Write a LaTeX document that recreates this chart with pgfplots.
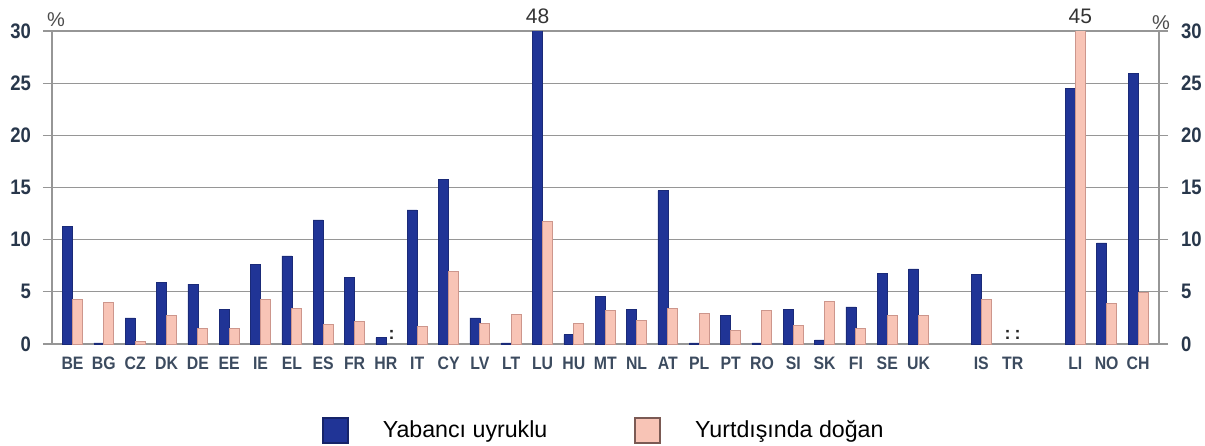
\documentclass[border=0pt]{standalone}
\usepackage{pgfplots}
\pgfplotsset{compat=1.18}
\usepackage{fontspec}
\setmainfont{Liberation Sans}
\newfontfamily\narrow[FakeStretch=0.88]{Liberation Sans}
\definecolor{barblue}{RGB}{32,52,150}
\definecolor{barpink}{RGB}{248,196,182}
\definecolor{pinkedge}{RGB}{205,150,140}
\definecolor{tickc}{RGB}{40,55,75}
\definecolor{catc}{RGB}{60,75,95}
\definecolor{gridc}{RGB}{150,150,150}
\begin{document}
\begin{tikzpicture}
\begin{axis}[
  scale only axis, width=553.5pt, height=156.5pt,
  xmin=-0.655, xmax=34.67, ymin=0, ymax=30,
  ybar=0pt, bar width=5pt,
  clip mode=individual,
  xtick={0,1,2,3,4,5,6,7,8,9,10,11,12,13,14,15,16,17,18,19,20,21,22,23,24,25,26,27,29,30,32,33,34},
  xticklabels={BE,BG,CZ,DK,DE,EE,IE,EL,ES,FR,HR,IT,CY,LV,LT,LU,HU,MT,NL,AT,PL,PT,RO,SI,SK,FI,SE,UK,IS,TR,LI,NO,CH},
  xtick style={draw=none},
  xticklabel style={font=\narrow\bfseries\fontsize{9}{10}\selectfont, color=catc, yshift=1.5pt},
  ytick={0,5,...,30},
  ytick pos=left, tick align=outside,
  major tick length=4.5pt,
  ytick style={draw=gridc, line width=0.6pt},
  yticklabel style={font=\narrow\bfseries\fontsize{10.5}{12}\selectfont, color=tickc, xshift=-2.5pt},
  /pgf/number format/assume math mode=true,
  ymajorgrids, major grid style={draw=gridc, line width=0.6pt},
  axis line style={draw=gridc, line width=0.8pt},
  legend columns=2,
  legend style={draw=none, fill=none, at={(axis description cs:0.2439,-0.277)}, anchor=west,
    inner sep=0pt, outer sep=0pt, font=\fontsize{11.6}{14}\selectfont,
    /tikz/every even column/.append style={column sep=41.5pt}},
]
\addplot[fill=barblue, draw=barblue!80!black, line width=0.3pt,
  legend image code/.code={\draw[fill=barblue, draw=barblue!70!black, line width=0.8pt] (0pt,-6.25pt) rectangle (12.5pt,6.25pt); \path[draw=none,fill=none] (0pt,0pt) -- (28pt,0pt);}]
coordinates {
(0,11.3) (1,0.1) (2,2.5) (3,5.9) (4,5.75) (5,3.35) (6,7.65) (7,8.45) (8,11.9) (9,6.4)
(10,0.6) (11,12.85) (12,15.8) (13,2.5) (14,0.1) (15,48) (16,0.9) (17,4.6) (18,3.35) (19,14.7)
(20,0.1) (21,2.75) (22,0.1) (23,3.3) (24,0.4) (25,3.55) (26,6.75) (27,7.2)
(29,6.7) (32,24.5) (33,9.7) (34,25.95)
};
\addlegendentry{Yabancı uyruklu}
\addplot[fill=barpink, draw=pinkedge, line width=0.5pt,
  legend image code/.code={\draw[fill=barpink, draw=pinkedge!60!black, line width=0.8pt] (0pt,-6.25pt) rectangle (12.5pt,6.25pt); \path[draw=none,fill=none] (0pt,0pt) -- (28pt,0pt);}]
coordinates {
(0,4.3) (1,4.0) (2,0.25) (3,2.7) (4,1.5) (5,1.5) (6,4.25) (7,3.45) (8,1.85) (9,2.2)
(11,1.7) (12,6.95) (13,2.0) (14,2.8) (15,11.75) (16,2.0) (17,3.2) (18,2.25) (19,3.45)
(20,2.95) (21,1.3) (22,3.2) (23,1.8) (24,4.1) (25,1.5) (26,2.75) (27,2.75)
(29,4.25) (32,45) (33,3.9) (34,4.9)
};
\addlegendentry{Yurtdışında doğan}
\node[font=\fontsize{10.5}{12}\selectfont, text=black!80, anchor=center] at (axis cs:15,30) [xshift=-2.5pt, yshift=7.25pt] {48};
\node[font=\fontsize{10.5}{12}\selectfont, text=black!80, anchor=center] at (axis cs:32,30) [xshift=2.5pt, yshift=7.25pt] {45};
\node[font=\bfseries\fontsize{9}{10}\selectfont, text=black!85, anchor=south, inner sep=0pt] at (axis cs:10,0) [xshift=2.8pt, yshift=2pt] {:};
\node[font=\bfseries\fontsize{9}{10}\selectfont, text=black!85, anchor=south, inner sep=0pt] at (axis cs:30,0) [xshift=-2.5pt, yshift=2pt] {:};
\node[font=\bfseries\fontsize{9}{10}\selectfont, text=black!85, anchor=south, inner sep=0pt] at (axis cs:30,0) [xshift=2.5pt, yshift=2pt] {:};
\node[font=\fontsize{10}{12}\selectfont, text=black!70, anchor=center] at (axis description cs:0,1) [xshift=2pt, yshift=5.5pt] {\%};
\node[font=\fontsize{10}{12}\selectfont, text=black!70, anchor=center] at (axis description cs:1,1) [xshift=1pt, yshift=4pt] {\%};
\end{axis}
\begin{axis}[
  scale only axis, width=553.5pt, height=156.5pt,
  xmin=-0.655, xmax=34.67, ymin=0, ymax=30,
  axis x line=none, axis y line*=right,
  ytick={0,5,...,30}, tick align=outside, major tick length=4.5pt,
  ytick style={draw=gridc, line width=0.6pt},
  yticklabel style={font=\narrow\bfseries\fontsize{10.5}{12}\selectfont, color=tickc, xshift=3pt},
  /pgf/number format/assume math mode=true,
  axis line style={draw=gridc, line width=0.8pt},
]
\end{axis}
\pgfresetboundingbox
\path[use as bounding box] (-26pt,-50.85pt) rectangle (576.5pt,172pt);
\end{tikzpicture}
\end{document}
